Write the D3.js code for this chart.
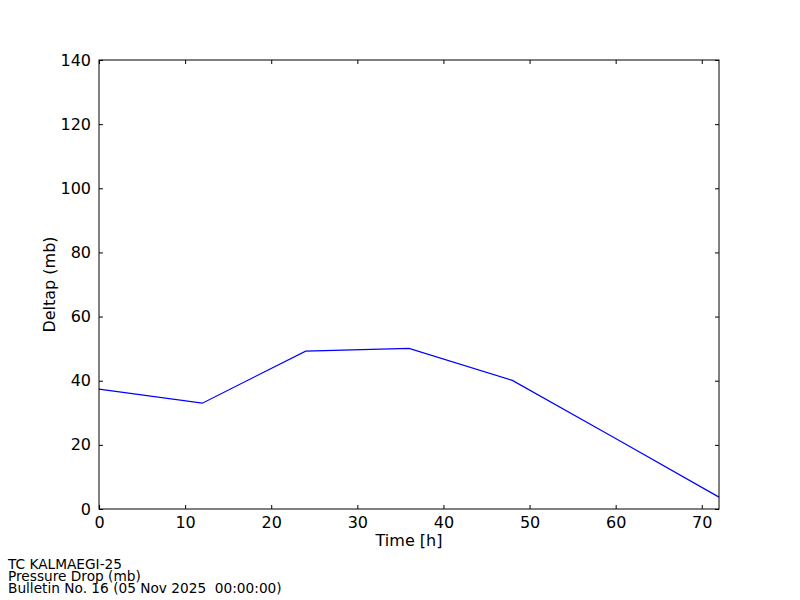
<!DOCTYPE html>
<html>
<head>
<meta charset="utf-8">
<script src="https://cdn.jsdelivr.net/npm/d3@7"></script>
<style>
  body { margin: 0; background: #fff; }
  text { font-family: "DejaVu Sans", sans-serif; }
  .foot { white-space: pre; }
</style>
</head>
<body>
<svg width="800" height="600"></svg>
<script>
// data
const hours = [0, 12, 24, 36, 48, 60, 72];
const deltap = [37.4, 33.0, 49.2, 50.1, 40.1, 22.0, 3.7];
const xTicks = [0, 10, 20, 30, 40, 50, 60, 70];
const yTicks = [0, 20, 40, 60, 80, 100, 120, 140];
const footer = ["TC KALMAEGI-25", "Pressure Drop (mb)", "Bulletin No. 16 (05 Nov 2025  00:00:00)"];

const plotL = 99, plotR = 719, plotT = 60, plotB = 509;
const svg = d3.select("svg");

const x = d3.scaleLinear().domain([0, 72]).range([plotL, plotR]);
const y = d3.scaleLinear().domain([0, 140]).range([plotB, plotT]);

const tick = 4;
// axes on all four sides, ticks pointing inwards
const xb = svg.append("g").attr("transform", `translate(0,${plotB})`)
  .call(d3.axisBottom(x).tickValues(xTicks).tickSizeInner(-tick).tickSizeOuter(0).tickPadding(8));
const xt = svg.append("g").attr("transform", `translate(0,${plotT})`)
  .call(d3.axisTop(x).tickValues(xTicks).tickSizeInner(-tick).tickSizeOuter(0).tickFormat(""));
const yl = svg.append("g").attr("transform", `translate(${plotL},0)`)
  .call(d3.axisLeft(y).tickValues(yTicks).tickSizeInner(-tick).tickSizeOuter(0).tickPadding(8));
const yr = svg.append("g").attr("transform", `translate(${plotR},0)`)
  .call(d3.axisRight(y).tickValues(yTicks).tickSizeInner(-tick).tickSizeOuter(0).tickFormat(""));

[xb, xt, yl, yr].forEach(g => {
  g.select(".domain").remove();
  g.selectAll("line").attr("stroke", "#000");
  g.selectAll("text").attr("font-size", 16).attr("fill", "#000")
    .style("font-family", "'DejaVu Sans', sans-serif");
});

// line
const line = d3.line().x((d, i) => x(hours[i])).y(d => y(d));
svg.append("path").datum(deltap)
  .attr("d", line)
  .attr("fill", "none")
  .attr("stroke", "#0000ff")
  .attr("stroke-width", 1.2);

// frame
svg.append("rect")
  .attr("x", plotL).attr("y", plotT)
  .attr("width", plotR - plotL).attr("height", plotB - plotT)
  .attr("fill", "none").attr("stroke", "#000").attr("stroke-width", 1);

// axis labels
svg.append("text").attr("x", (plotL + plotR) / 2).attr("y", 546)
  .attr("text-anchor", "middle").attr("font-size", 16).text("Time [h]");
svg.append("text")
  .attr("transform", `translate(55,${(plotT + plotB) / 2}) rotate(-90)`)
  .attr("text-anchor", "middle").attr("font-size", 16).text("Deltap (mb)");

// footer
svg.selectAll(".foot").data(footer).enter().append("text")
  .attr("class", "foot")
  .attr("x", 8).attr("y", (d, i) => 569 + i * 12)
  .attr("font-size", 13.7).text(d => d);
</script>
</body>
</html>
